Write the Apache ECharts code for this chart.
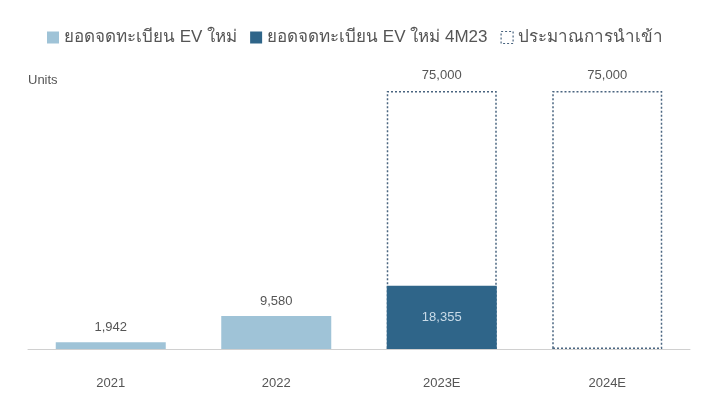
<!DOCTYPE html>
<html>
<head>
<meta charset="utf-8">
<script src="https://cdn.jsdelivr.net/npm/echarts@6/dist/echarts.min.js"></script>
<style>
  html, body { margin: 0; padding: 0; background: #fff; }
  #myChart { width: 701px; height: 401px; }
</style>
</head>
<body>
<div id="myChart"></div>
<script>
var categories = ['2021', '2022', '2023E', '2024E'];
var registered = [1942, 9580, null, null];
var registered4M23 = [null, null, 18355, null];
var importEstimate = [null, null, 75000, 75000];
var seriesNames = ['ยอดจดทะเบียน EV ใหม่', 'ยอดจดทะเบียน EV ใหม่ 4M23', 'ประมาณการนำเข้า'];

var myChart = echarts.init(document.getElementById('myChart'));
var fmt = function (p) { return p.value == null ? '' : p.value.toLocaleString('en-US'); };
var dashColor = '#4a6580';
myChart.setOption({
  animation: false,
  textStyle: { fontFamily: 'Liberation Sans, Noto Sans, sans-serif' },
  legend: {
    top: 24,
    left: 42,
    icon: 'rect',
    itemWidth: 12,
    itemHeight: 12,
    itemGap: 13,
    textStyle: { color: '#555', fontSize: 17 },
    data: [
      { name: seriesNames[0] },
      { name: seriesNames[1] },
      { name: seriesNames[2], itemStyle: { color: '#fff', borderColor: dashColor, borderWidth: 1.2, borderType: [2, 2] } }
    ]
  },
  grid: { left: 28, right: 11, top: 91, bottom: 52 },
  xAxis: {
    type: 'category',
    data: categories,
    axisTick: { show: false },
    axisLine: { lineStyle: { color: '#d0d0d0' } },
    axisLabel: { color: '#555', fontSize: 13, margin: 28 }
  },
  yAxis: {
    type: 'value',
    min: 0,
    max: 75000,
    name: 'Units',
    nameLocation: 'end',
    nameGap: 4,
    nameTextStyle: { color: '#555', fontSize: 13, align: 'left' },
    axisLine: { show: false },
    axisTick: { show: false },
    axisLabel: { show: false },
    splitLine: { show: false }
  },
  series: [
    {
      name: seriesNames[2],
      type: 'bar',
      data: importEstimate,
      barWidth: 110,
      z: 1,
      itemStyle: { color: '#fff', borderColor: dashColor, borderWidth: 1.5, borderType: [2, 2] },
      label: { show: true, position: 'top', color: '#555', fontSize: 13, distance: 9, formatter: fmt }
    },
    {
      name: seriesNames[0],
      type: 'bar',
      data: registered,
      barWidth: 110,
      barGap: '-100%',
      z: 2,
      itemStyle: { color: '#9fc3d7' },
      label: { show: true, position: 'top', color: '#555', fontSize: 13, distance: 8, formatter: fmt }
    },
    {
      name: seriesNames[1],
      type: 'bar',
      data: registered4M23,
      barWidth: 110,
      barGap: '-100%',
      z: 3,
      itemStyle: { color: '#2f6589' },
      label: { show: true, position: 'inside', color: '#c9dbe8', fontSize: 13, formatter: fmt }
    }
  ]
});
</script>
</body>
</html>
